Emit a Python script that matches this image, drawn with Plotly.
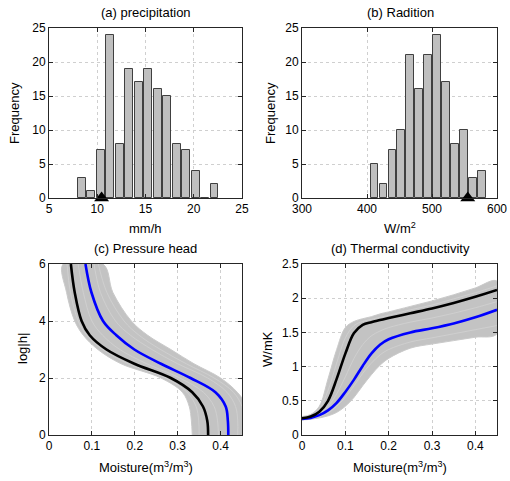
import plotly.graph_objects as go

W, H = 510, 481

# ---- (a) precipitation histogram ----
precip_centers = [8.39, 9.37, 10.36, 11.34, 12.32, 13.31, 14.29, 15.27,
                  16.26, 17.24, 18.22, 19.20, 20.19, 21.17, 22.15]
precip_counts = [3, 1, 7, 24, 8, 19, 17, 19, 16, 15, 8, 7, 4, 0, 2]
precip_ref = 10.45

# ---- (b) radiation histogram ----
rad_centers = [411.3, 425.1, 438.9, 452.6, 466.4, 480.2, 494.0, 507.8,
               521.6, 535.3, 549.1, 562.9, 576.7]
rad_counts = [5, 2, 7, 10, 21, 16, 21, 24, 17, 8, 10, 3, 4]
rad_ref = 555

# ---- (c) pressure head: moisture at each log|h| level ----
logh_levels = [0, 0.5, 1, 1.5, 2, 2.5, 3, 3.5, 4, 5, 6]
ph_black = [0.371, 0.369, 0.359, 0.334, 0.284, 0.199, 0.134, 0.095, 0.076, 0.060, 0.051]
ph_blue = [0.418, 0.417, 0.412, 0.388, 0.330, 0.261, 0.199, 0.157, 0.126, 0.099, 0.085]
ph_low = [0.334, 0.332, 0.327, 0.311, 0.261, 0.168, 0.114, 0.080, 0.060, 0.041, 0.033]
ph_high = [0.470, 0.470, 0.462, 0.439, 0.400, 0.338, 0.284, 0.230, 0.192, 0.149, 0.126]
ph_members = [
    [0.350, 0.349, 0.343, 0.322, 0.272, 0.185, 0.125, 0.088, 0.068, 0.050, 0.042],
    [0.395, 0.393, 0.385, 0.360, 0.305, 0.228, 0.165, 0.125, 0.100, 0.080, 0.068],
    [0.440, 0.440, 0.435, 0.415, 0.370, 0.300, 0.240, 0.190, 0.155, 0.120, 0.105],
    [0.455, 0.455, 0.450, 0.430, 0.385, 0.320, 0.260, 0.210, 0.175, 0.135, 0.115],
]

# ---- (d) thermal conductivity ----
tc_moist = [0, 0.02, 0.04, 0.06, 0.08, 0.10, 0.12, 0.14, 0.16, 0.18, 0.20,
            0.25, 0.30, 0.35, 0.40, 0.45]
tc_black = [0.245, 0.27, 0.34, 0.50, 0.82, 1.19, 1.49, 1.61, 1.65, 1.68, 1.71,
            1.78, 1.85, 1.93, 2.02, 2.12]
tc_blue = [0.235, 0.25, 0.29, 0.36, 0.47, 0.63, 0.81, 1.01, 1.19, 1.32, 1.40,
           1.50, 1.56, 1.63, 1.72, 1.83]
tc_high = [0.27, 0.30, 0.42, 0.82, 1.25, 1.57, 1.66, 1.70, 1.73, 1.77, 1.80,
           1.88, 1.96, 2.05, 2.15, 2.25]
tc_low = [0.22, 0.23, 0.25, 0.28, 0.33, 0.42, 0.55, 0.72, 0.88, 1.02, 1.12,
          1.27, 1.33, 1.38, 1.43, 1.48]
tc_members = [
    [0.26, 0.285, 0.38, 0.65, 1.05, 1.42, 1.60, 1.66, 1.69, 1.72, 1.75, 1.83, 1.90, 1.99, 2.08, 2.18],
    [0.23, 0.24, 0.27, 0.32, 0.42, 0.55, 0.72, 0.90, 1.05, 1.17, 1.25, 1.36, 1.42, 1.48, 1.54, 1.60],
    [0.24, 0.26, 0.31, 0.42, 0.60, 0.85, 1.12, 1.32, 1.45, 1.52, 1.57, 1.65, 1.71, 1.78, 1.86, 1.95],
]

FONT = "Liberation Sans, Arial, Helvetica, sans-serif"
AXC = "#262626"
GRID = "#cfcfcf"
BAND = "#c3c3c3"
BAND_EDGE = "#cacaca"
STREAK = "#d2d2d2"
BAR_FACE = "#bfbfbf"
BAR_EDGE = "#404040"


def px_x(p):
    return p / W


def px_y(p):
    return 1 - p / H


fig = go.Figure()

# histogram bars and observed-value markers
fig.add_trace(go.Bar(x=precip_centers, y=precip_counts, width=0.82,
                     marker=dict(color=BAR_FACE, line=dict(color=BAR_EDGE, width=1)),
                     xaxis="x", yaxis="y"))
fig.add_trace(go.Scatter(x=[precip_ref], y=[0], mode="markers", cliponaxis=False,
                         marker=dict(symbol="triangle-up", size=13, color="black"),
                         xaxis="x", yaxis="y"))
fig.add_trace(go.Bar(x=rad_centers, y=rad_counts, width=11.5,
                     marker=dict(color=BAR_FACE, line=dict(color=BAR_EDGE, width=1)),
                     xaxis="x2", yaxis="y2"))
fig.add_trace(go.Scatter(x=[rad_ref], y=[0], mode="markers", cliponaxis=False,
                         marker=dict(symbol="triangle-up", size=13, color="black"),
                         xaxis="x2", yaxis="y2"))

# retention curve ensemble
fig.add_trace(go.Scatter(x=ph_low + ph_high[::-1], y=logh_levels + logh_levels[::-1],
                         fill="toself", fillcolor=BAND, mode="lines",
                         line=dict(color=BAND_EDGE, width=1, shape="spline"),
                         xaxis="x3", yaxis="y3"))
for m in ph_members:
    fig.add_trace(go.Scatter(x=m, y=logh_levels, mode="lines",
                             line=dict(color=STREAK, width=0.8, shape="spline"),
                             xaxis="x3", yaxis="y3"))
fig.add_trace(go.Scatter(x=ph_black, y=logh_levels, mode="lines",
                         line=dict(color="black", width=2.6, shape="spline"),
                         xaxis="x3", yaxis="y3"))
fig.add_trace(go.Scatter(x=ph_blue, y=logh_levels, mode="lines",
                         line=dict(color="#0000ff", width=2.6, shape="spline"),
                         xaxis="x3", yaxis="y3"))

# thermal conductivity ensemble
fig.add_trace(go.Scatter(x=tc_moist + tc_moist[::-1], y=tc_low + tc_high[::-1],
                         fill="toself", fillcolor=BAND, mode="lines",
                         line=dict(color=BAND_EDGE, width=1, shape="spline"),
                         xaxis="x4", yaxis="y4"))
for m in tc_members:
    fig.add_trace(go.Scatter(x=tc_moist, y=m, mode="lines",
                             line=dict(color=STREAK, width=0.8, shape="spline"),
                             xaxis="x4", yaxis="y4"))
fig.add_trace(go.Scatter(x=tc_moist, y=tc_blue, mode="lines",
                         line=dict(color="#0000ff", width=2.6, shape="spline"),
                         xaxis="x4", yaxis="y4"))
fig.add_trace(go.Scatter(x=tc_moist, y=tc_black, mode="lines",
                         line=dict(color="black", width=2.6, shape="spline"),
                         xaxis="x4", yaxis="y4"))


def axis(domain, rng, tickvals, anchor):
    return dict(domain=domain, range=rng, tickvals=tickvals, anchor=anchor,
                automargin=False,
                showline=True, linecolor=AXC, linewidth=1, mirror="ticks",
                ticks="inside", ticklen=4, tickcolor=AXC,
                showgrid=True, gridcolor=GRID, griddash="dot", gridwidth=1,
                zeroline=False, tickfont=dict(family=FONT, size=12, color="black"))


dx_left = [px_x(49), px_x(242)]
dx_right = [px_x(302), px_x(497)]
dy_top = [px_y(198), px_y(28)]
dy_bot = [px_y(435), px_y(264)]

fig.update_layout(
    width=W, height=H, margin=dict(l=0, r=0, t=0, b=0, autoexpand=False),
    paper_bgcolor="white", plot_bgcolor="white", showlegend=False,
    bargap=0,
    xaxis=axis(dx_left, [5, 25], [5, 10, 15, 20, 25], "y"),
    yaxis=axis(dy_top, [0, 25], [0, 5, 10, 15, 20, 25], "x"),
    xaxis2=axis(dx_right, [300, 600], [300, 400, 500, 600], "y2"),
    yaxis2=axis(dy_top, [0, 25], [0, 5, 10, 15, 20, 25], "x2"),
    xaxis3=axis(dx_left, [0, 0.45], [0, 0.1, 0.2, 0.3, 0.4], "y3"),
    yaxis3=axis(dy_bot, [0, 6], [0, 2, 4, 6], "x3"),
    xaxis4=axis(dx_right, [0, 0.45], [0, 0.1, 0.2, 0.3, 0.4], "y4"),
    yaxis4=axis(dy_bot, [0, 2.5], [0, 0.5, 1, 1.5, 2, 2.5], "x4"),
)


def label(text, x, y, angle=0, size=13):
    fig.add_annotation(text=text, x=px_x(x), y=px_y(y), xref="paper", yref="paper",
                       showarrow=False, textangle=angle, xanchor="center", yanchor="middle",
                       font=dict(family=FONT, size=size, color="black"))


# panel titles
label("(a) precipitation", 145.5, 13)
label("(b) Radition", 400, 13)
label("(c) Pressure head", 145.5, 248)
label("(d) Thermal conductivity", 400, 248)

# axis titles
label("mm/h", 145.5, 228)
label("W/m<sup>2</sup>", 400, 228)
label("Frequency", 15, 113, angle=-90)
label("Frequency", 271, 113, angle=-90)
label("Moisture(m<sup>3</sup>/m<sup>3</sup>)", 145.5, 467)
label("Moisture(m<sup>3</sup>/m<sup>3</sup>)", 400, 467)
label("log|h|", 22, 349, angle=-90)
label("W/mK", 267, 349, angle=-90)

fig.write_html("out.html")
